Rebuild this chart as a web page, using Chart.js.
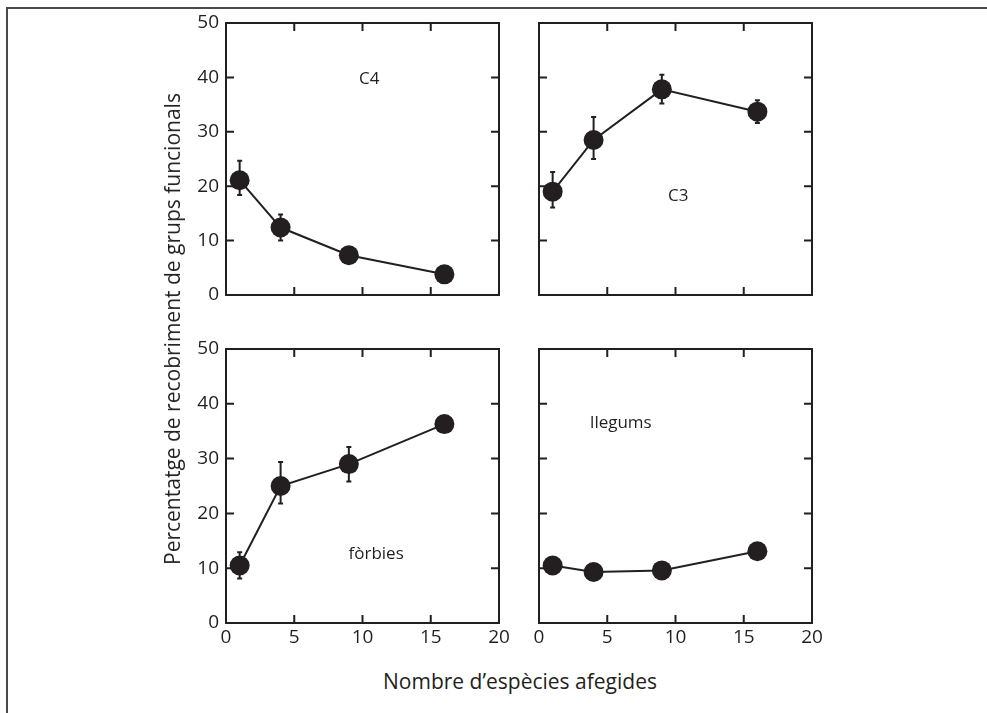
<!DOCTYPE html>
<html>
<head>
<meta charset="utf-8">
<script src="https://cdn.jsdelivr.net/npm/chart.js@4"></script>
<style>
  html, body { margin: 0; padding: 0; background: #fff; }
  body { width: 987px; height: 713px; position: relative; overflow: hidden; font-family: "Open Sans", sans-serif; color: #231f20; }
  #frame { position: absolute; left: 6px; top: 7px; width: 990px; height: 720px; border-top: 2px solid #4a4a4a; border-left: 2px solid #4a4a4a; }
  canvas { position: absolute; }
  .title { position: absolute; white-space: nowrap; font-size: 21px; color: #231f20; }
  #ytitle { left: 172px; top: 329px; transform: translate(-50%, -50%) rotate(-90deg); }
  #xtitle { left: 520px; top: 681px; transform: translate(-50%, -50%); }
</style>
</head>
<body>
<div id="frame"></div>
<canvas id="c4" width="370" height="300" style="left:140px;top:10px;width:370px;height:300px"></canvas>
<canvas id="c3" width="330" height="300" style="left:520px;top:10px;width:330px;height:300px"></canvas>
<canvas id="forbs" width="380" height="330" style="left:140px;top:330px;width:380px;height:330px"></canvas>
<canvas id="legumes" width="330" height="330" style="left:520px;top:330px;width:330px;height:330px"></canvas>
<div class="title" id="ytitle">Percentatge de recobriment de grups funcionals</div>
<div class="title" id="xtitle">Nombre d’espècies afegides</div>
<script>
// ---- data ----
const speciesAdded = [1, 4, 9, 16];
const xTicks = [0, 5, 10, 15, 20];
const yTicks = [0, 10, 20, 30, 40, 50];

const c4Cover = [21.1, 12.4, 7.3, 3.8];
const c4Upper = [24.7, 14.8, null, null];
const c4Lower = [18.4, 10.0, null, null];

const c3Cover = [19.0, 28.5, 37.8, 33.7];
const c3Upper = [22.6, 32.7, 40.5, 35.8];
const c3Lower = [16.1, 25.0, 35.2, 31.6];

const forbsCover = [10.5, 25.0, 29.0, 36.3];
const forbsUpper = [12.9, 29.4, 32.1, null];
const forbsLower = [8.1, 21.8, 25.8, null];

const legumesCover = [10.5, 9.3, 9.6, 13.1];
const legumesUpper = [null, null, null, null];
const legumesLower = [null, null, null, null];

const panelNames = ['C4', 'C3', 'fòrbies', 'llegums'];

// ---- styling / layout ----
const INK = '#231f20';
const FONT = '"Open Sans", sans-serif';

const panelPlugin = {
  id: 'panelDecor',
  beforeDatasetsDraw(chart) {
    const { ctx, chartArea: a, scales: { x, y } } = chart;
    ctx.save();
    ctx.strokeStyle = INK;
    ctx.lineWidth = 2;
    ctx.strokeRect(a.left, a.top, a.right - a.left, a.bottom - a.top);
    const tl = 8;
    ctx.beginPath();
    xTicks.slice(1, -1).forEach(v => {
      const px = x.getPixelForValue(v);
      ctx.moveTo(px, a.bottom); ctx.lineTo(px, a.bottom - tl);
      ctx.moveTo(px, a.top); ctx.lineTo(px, a.top + tl);
    });
    yTicks.slice(1, -1).forEach(v => {
      const py = y.getPixelForValue(v);
      ctx.moveTo(a.left, py); ctx.lineTo(a.left + tl, py);
      ctx.moveTo(a.right, py); ctx.lineTo(a.right - tl, py);
    });
    ctx.stroke();
    // error bars
    const o = chart.options.plugins.panelDecor;
    ctx.lineWidth = 2;
    ctx.beginPath();
    o.upper.forEach((u, i) => {
      const lo = o.lower[i];
      if (u == null || lo == null) return;
      const px = x.getPixelForValue(speciesAdded[i]);
      const pu = y.getPixelForValue(u), pl = y.getPixelForValue(lo);
      ctx.moveTo(px, pu); ctx.lineTo(px, pl);
      ctx.moveTo(px - 2.5, pu); ctx.lineTo(px + 2.5, pu);
      ctx.moveTo(px - 2.5, pl); ctx.lineTo(px + 2.5, pl);
    });
    ctx.stroke();
    ctx.restore();
  },
  afterDatasetsDraw(chart) {
    const { ctx, scales: { x, y } } = chart;
    const o = chart.options.plugins.panelDecor;
    ctx.save();
    ctx.fillStyle = INK;
    ctx.font = '17px ' + FONT;
    ctx.textAlign = 'center';
    ctx.textBaseline = 'middle';
    ctx.fillText(o.label, x.getPixelForValue(o.labelAt[0]), y.getPixelForValue(o.labelAt[1]));
    ctx.restore();
  }
};

function makePanel(id, values, upper, lower, label, labelAt, showX, showY, pad, yWidth, xHeight) {
  new Chart(document.getElementById(id), {
    type: 'line',
    data: {
      datasets: [{
        data: speciesAdded.map((v, i) => ({ x: v, y: values[i] })),
        borderColor: INK,
        borderWidth: 2,
        backgroundColor: INK,
        pointRadius: 10,
        pointBorderWidth: 0,
        pointBackgroundColor: INK,
        tension: 0,
        clip: false
      }]
    },
    options: {
      responsive: false,
      animation: false,
      events: [],
      layout: { padding: pad },
      plugins: {
        legend: { display: false },
        tooltip: { enabled: false },
        panelDecor: { upper, lower, label, labelAt }
      },
      scales: {
        x: {
          type: 'linear', min: 0, max: 20,
          afterBuildTicks: s => { s.ticks = xTicks.map(v => ({ value: v })); },
          afterFit: s => { s.height = xHeight; s.paddingLeft = 0; s.paddingRight = 0; },
          grid: { display: false, drawTicks: false },
          border: { display: false },
          ticks: { display: showX, padding: 3, color: INK, font: { family: FONT, size: 19 } }
        },
        y: {
          type: 'linear', min: 0, max: 50,
          afterBuildTicks: s => { s.ticks = yTicks.map(v => ({ value: v })); },
          afterFit: s => { s.width = yWidth; s.paddingTop = 0; s.paddingBottom = 0; },
          grid: { display: false, drawTicks: false },
          border: { display: false },
          ticks: { display: showY, padding: 7, color: INK, font: { family: FONT, size: 19 } }
        }
      }
    },
    plugins: [panelPlugin]
  });
}

makePanel('c4', c4Cover, c4Upper, c4Lower, panelNames[0], [10.5, 39.7], false, true,
  { left: 0, top: 13, right: 11, bottom: 0 }, 86, 15);
makePanel('c3', c3Cover, c3Upper, c3Lower, panelNames[1], [10.2, 18.1], false, false,
  { left: 0, top: 13, right: 38, bottom: 0 }, 19, 15);
makePanel('forbs', forbsCover, forbsUpper, forbsLower, panelNames[2], [11.0, 12.6], true, true,
  { left: 0, top: 19, right: 21, bottom: 0 }, 86, 37);
makePanel('legumes', legumesCover, legumesUpper, legumesLower, panelNames[3], [6.0, 36.5], true, false,
  { left: 0, top: 19, right: 38, bottom: 0 }, 19, 37);
</script>
</body>
</html>
